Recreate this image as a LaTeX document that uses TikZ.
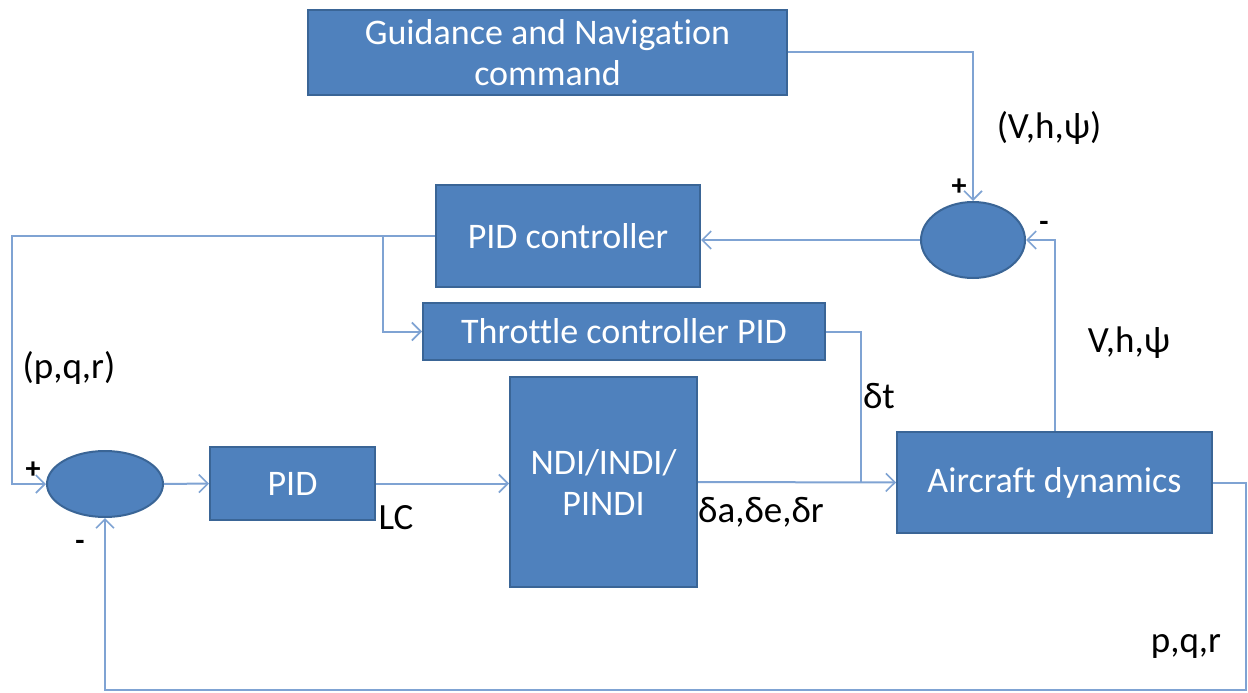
\documentclass[tikz,border=0pt]{standalone}
\usepackage{fontspec}
\setmainfont{Carlito}[Ligatures=NoCommon]
\usetikzlibrary{arrows.meta,shapes.geometric}
\definecolor{boxfill}{HTML}{4F81BD}
\definecolor{boxline}{HTML}{3A6596}
\definecolor{wire}{HTML}{7FA3D3}
\tikzset{
  block/.style={draw=boxline, line width=2pt, fill=boxfill, text=white,
    rectangle, inner sep=0pt, align=center,
    font=\fontsize{36}{41}\selectfont},
  summer/.style={draw=boxline, line width=2pt, fill=boxfill, ellipse, inner sep=0pt},
  conn/.style={draw=wire, line width=2pt},
  arr/.style={conn, -{Straight Barb[length=9pt,width=18pt,line width=1.6pt]}},
  lbl/.style={text=black, inner sep=0pt, font=\fontsize{37}{42}\selectfont},
  sign/.style={text=black, inner sep=0pt, font=\fontsize{30}{34}\selectfont\bfseries}
}
\begin{document}
\begin{tikzpicture}[x=1pt,y=-1pt]
\useasboundingbox (0,0) rectangle (1248,693);

% blocks
\node[block, minimum width=479pt, minimum height=85pt] (guid) at (547.5,52.5) {Guidance and Navigation\\command};
\node[block, minimum width=264pt, minimum height=102pt] (pidc) at (568,236) {PID controller};
\node[block, minimum width=402pt, minimum height=57pt] (thr) at (624,331.5) {Throttle controller PID};
\node[block, minimum width=165pt, minimum height=73pt] (pid) at (292.5,483.5) {PID};
\node[block, minimum width=187pt, minimum height=210pt] (ndi) at (603.5,482) {NDI/INDI/\\PINDI};
\node[block, minimum width=315pt, minimum height=101pt] (air) at (1054.5,482.5) {Aircraft dynamics};

% summing junctions
\node[summer, minimum width=104pt, minimum height=76pt] (sumo) at (973,240) {};
\node[summer, minimum width=116pt, minimum height=66pt] (sumi) at (105,484) {};

% routing points
\coordinate (lt) at (12,236);
\coordinate (br) at (383,236);
\coordinate (jn) at (861,482);
\coordinate (rb) at (1246,690);

% connectors
\draw[arr] (guid.east) -| (sumo.north);
\draw[arr] (sumo.west) -- (sumo.west -| pidc.east);
\draw[arr] (pidc.west) -- (lt) |- (sumi.west);
\draw[arr] (br) |- (thr.west);
\draw[arr] (sumi.east) -- (pid.west);
\draw[arr] (pid.east) -- (pid.east -| ndi.west);
\draw[arr] (ndi.east) -- (air.west);
\draw[conn] (thr.east) -| (jn);
\draw[arr] (air.north) |- (sumo.east);
\draw[arr] (air.east) -| (rb) -| (sumi.south);

% signal labels
\node[lbl] (l1) at (1049,128) {(V,h,ψ)};
\node[lbl] (l2) at (1129,343) {V,h,ψ};
\node[lbl] (l3) at (69,368) {(p,q,r)};
\node[lbl] (l4) at (396,518) {LC};
\node[lbl] (l5) at (761,512) {δa,δe,δr};
\node[lbl] (l6) at (879,396) {δt};
\node[lbl] (l7) at (1186,646) {p,q,r};

% signs
\node[sign] (s1) at (959,187) {+};
\node[sign] (s2) at (1044,226) {-};
\node[sign] (s3) at (33,470) {+};
\node[sign] (s4) at (80,545) {-};
\end{tikzpicture}
\end{document}
